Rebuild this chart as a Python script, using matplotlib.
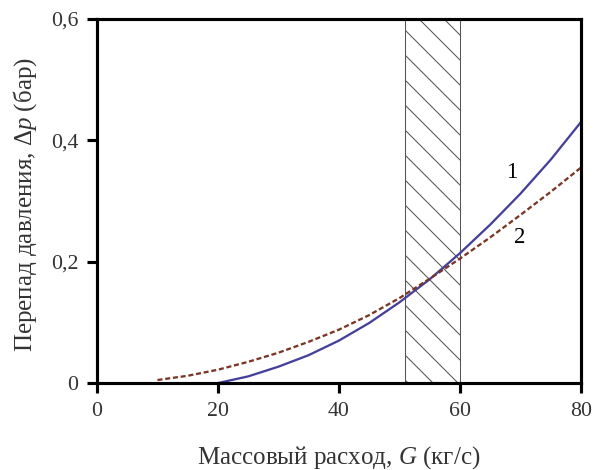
import numpy as np
import matplotlib.pyplot as plt

# curve 1 (solid) and curve 2 (dashed)
g1 = [20, 25, 30, 35, 40, 45, 50, 55, 60, 65, 70, 75, 80]
dp1 = [0.0, 0.011, 0.027, 0.046, 0.070, 0.099, 0.133, 0.171, 0.214, 0.261, 0.312, 0.368, 0.430]
g2 = [10, 15, 20, 25, 30, 35, 40, 45, 50, 55, 60, 65, 70, 75, 80]
dp2 = [0.005, 0.012, 0.022, 0.035, 0.050, 0.068, 0.088, 0.112, 0.140, 0.172, 0.205, 0.240, 0.277, 0.315, 0.355]
zone = (51, 60)
xticks = [0, 20, 40, 60, 80]
yticks = [0, 0.2, 0.4, 0.6]
ylabels = ['0', '0,2', '0,4', '0,6']

plt.rcParams['font.family'] = ['Liberation Serif', 'DejaVu Serif']
plt.rcParams['mathtext.fontset'] = 'custom'
plt.rcParams['mathtext.rm'] = 'Liberation Serif'
plt.rcParams['mathtext.it'] = 'Liberation Serif:italic'
plt.rcParams['hatch.linewidth'] = 0.5
plt.rcParams['hatch.color'] = '#555555'

fig = plt.figure(figsize=(597 / 150, 470 / 150), dpi=150)
ax = fig.add_axes([0.1625, 0.185, 0.8105, 0.7746])

ax.axvspan(zone[0], zone[1], facecolor='none', edgecolor='#555555',
           hatch='\\\\', linewidth=0.5)
ax.plot(g1, dp1, color='#45409a', lw=1.1)
ax.plot(g2, dp2, color='#7a3524', lw=1.1, dashes=(2.2, 1.2))

ax.text(68.6, 0.347, '1', fontsize=11, ha='center', va='center')
ax.text(69.8, 0.24, '2', fontsize=11, ha='center', va='center')

ax.set_xlim(0, 80)
ax.set_ylim(0, 0.6)
ax.set_xticks(xticks)
ax.set_yticks(yticks)
ax.set_yticklabels(ylabels)
ax.tick_params(direction='out', length=5, width=1.5, labelsize=10.5, pad=4,
               labelcolor='#333333')
for s in ax.spines.values():
    s.set_linewidth(1.5)

ax.set_xlabel('Массовый расход, $\\it{G}$ (кг/с)', fontsize=12, labelpad=11,
              color='#333333')
ax.set_ylabel('Перепад давления, $\\it{Δp}$ (бар)', fontsize=12, labelpad=5,
              color='#333333')
ax.yaxis.set_label_coords(-0.12, 0.49)

fig.savefig('out.png', dpi=150)
